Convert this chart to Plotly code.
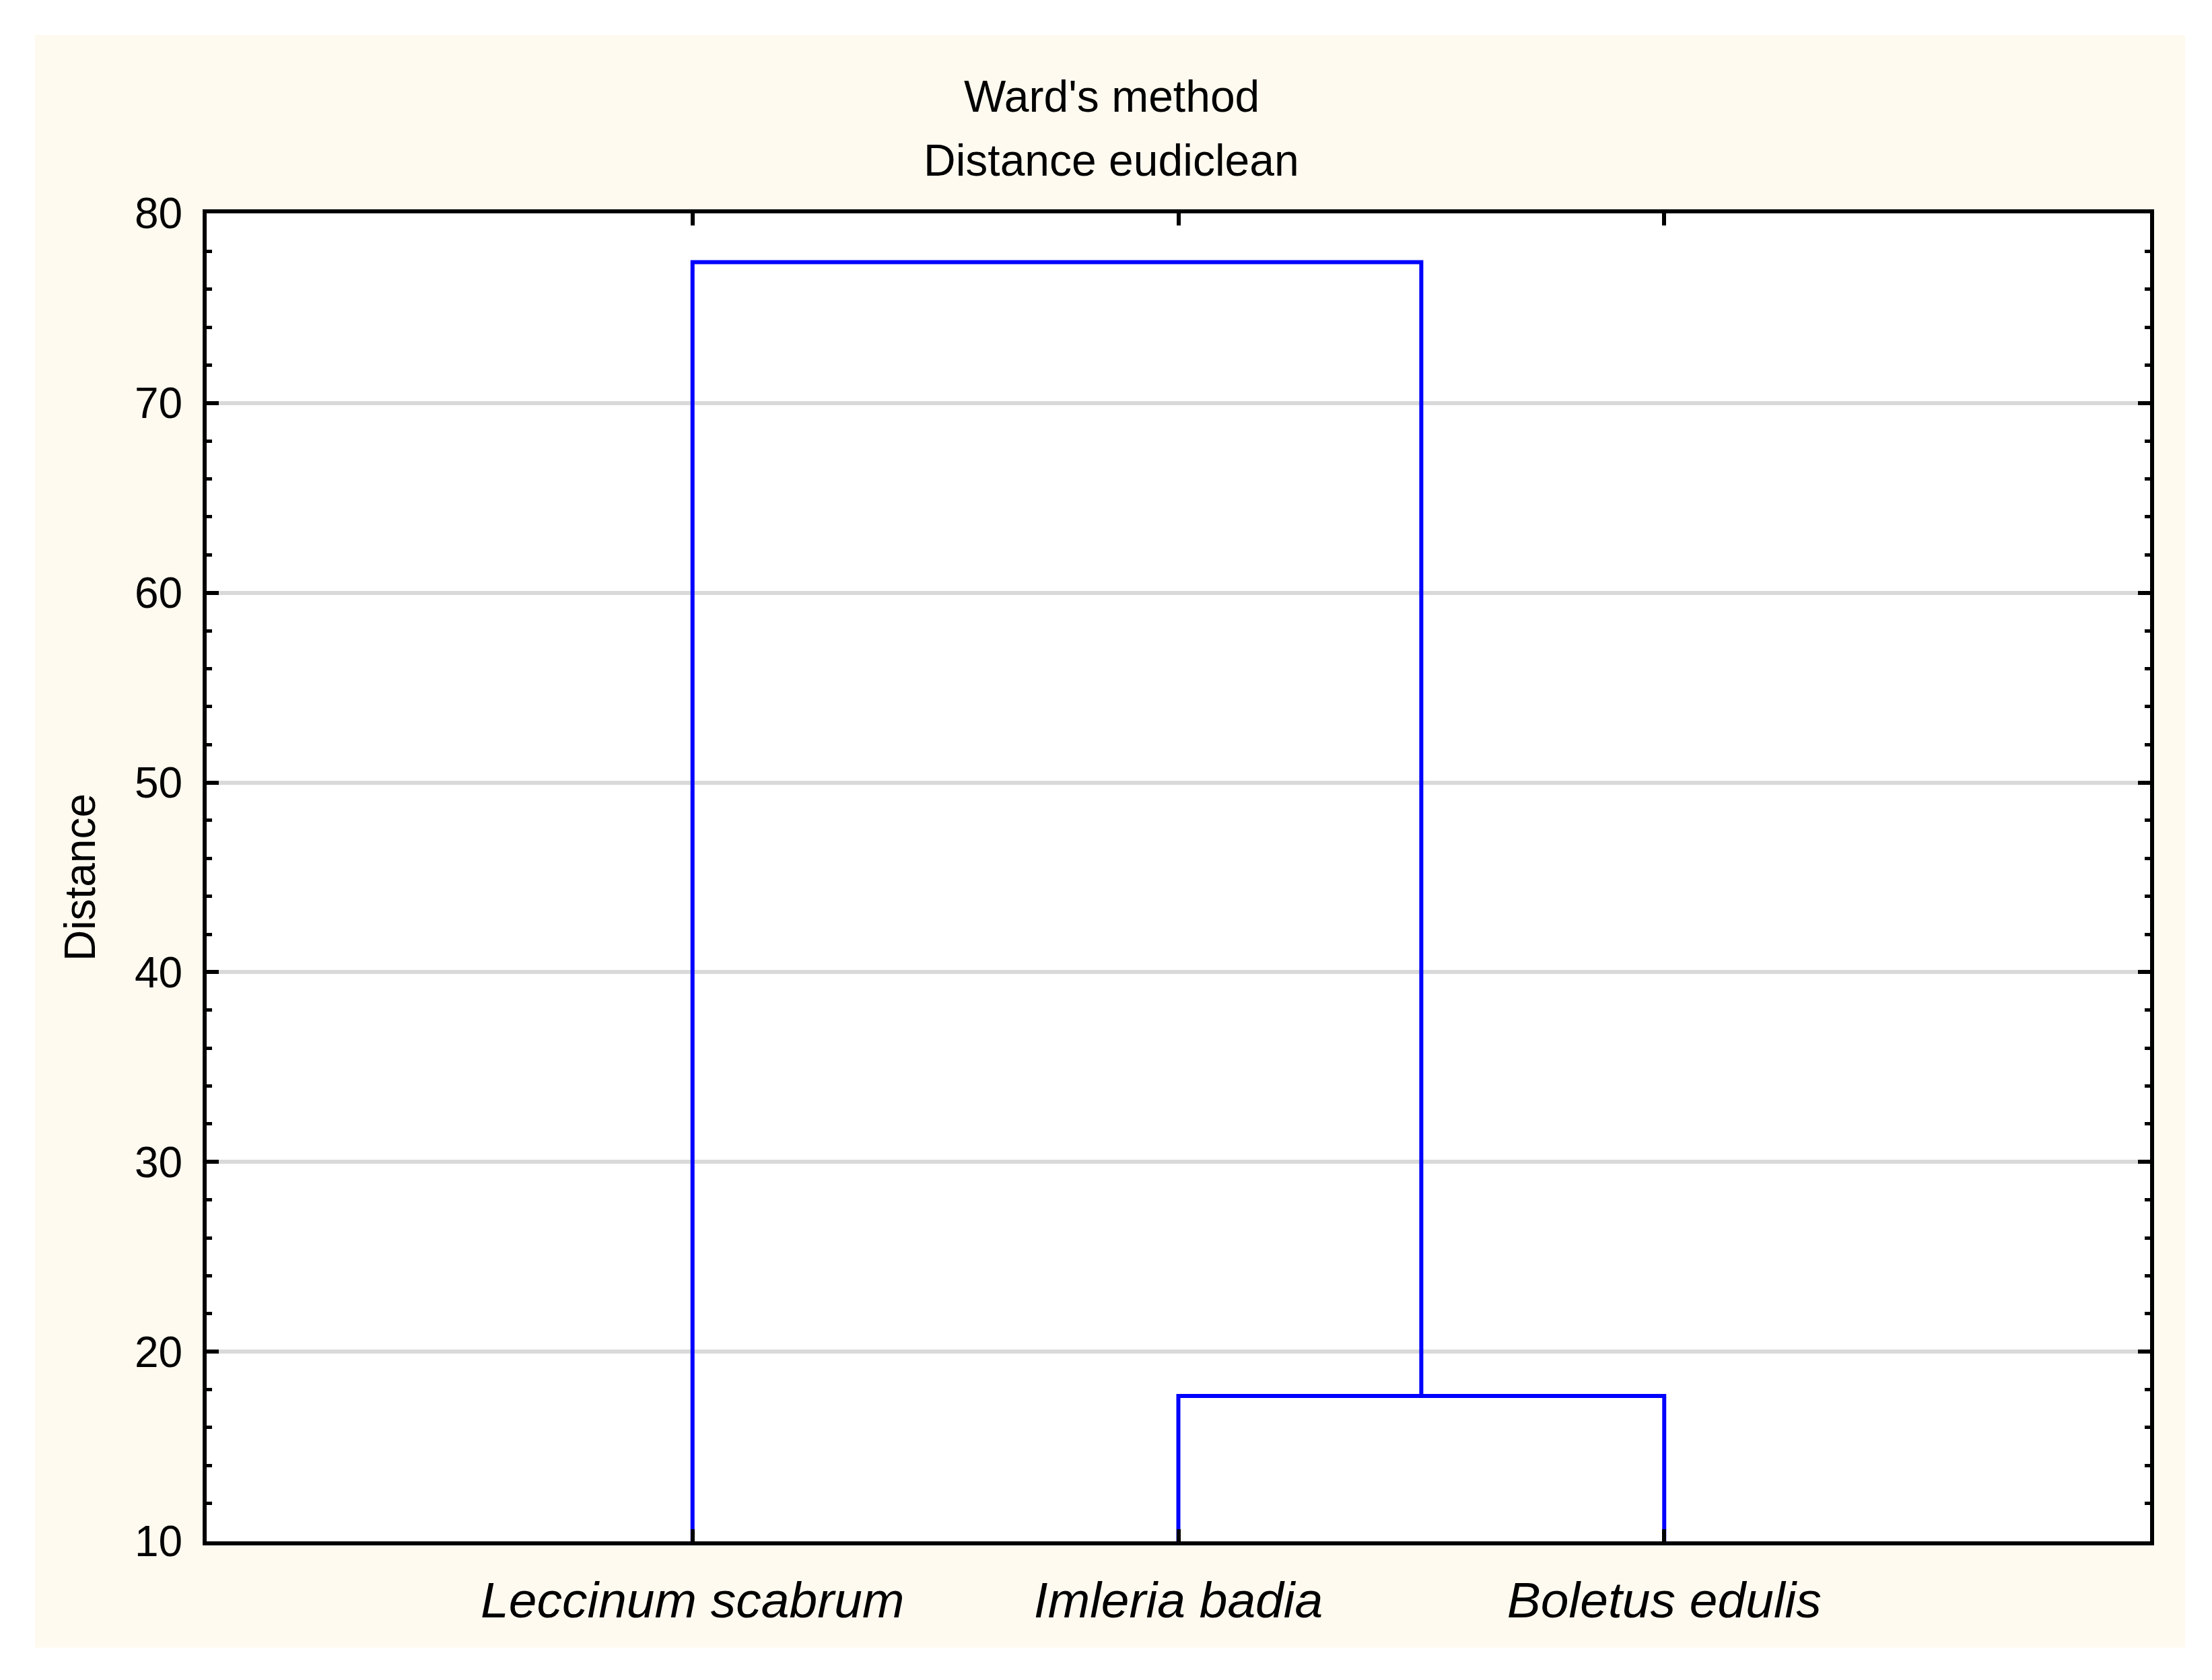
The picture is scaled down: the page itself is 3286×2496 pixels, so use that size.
import plotly.graph_objects as go

# ---------------- data ----------------
leaves = ["Leccinum scabrum", "Imleria badia", "Boletus edulis"]
leaf_positions = [1, 2, 3]
# merges: node ids (0..n-1 = leaves, n+k = cluster created by merge k)
merge_left = [1, 0]
merge_right = [2, 3]
merge_heights = [17.66, 77.43]
y_ticks = [10, 20, 30, 40, 50, 60, 70, 80]
title_lines = ["Ward's method", "Distance eudiclean"]
y_title = "Distance"
base_level = 10

# ---------------- build dendrogram links ----------------
node_x = list(leaf_positions)
node_y = [base_level] * len(leaves)
xs, ys = [], []
for l, r, h in zip(merge_left, merge_right, merge_heights):
    xl, yl = node_x[l], node_y[l]
    xr, yr = node_x[r], node_y[r]
    xs += [xl, xl, xr, xr, None]
    ys += [yl, h, h, yr, None]
    node_x.append((xl + xr) / 2)
    node_y.append(h)

FONT = "Liberation Sans, Arial, sans-serif"
OFF = 8  # page body margin
W, H = 3286 - OFF, 2496 - OFF
L, R, T, B = 307 - OFF, 92, 317 - OFF, 206
pw, ph = W - L - R, H - T - B

def px_to_paper_x(px):  # px in page coordinates
    return (px - OFF - L) / pw

def px_to_paper_y(py):
    return (H - B - (py - OFF)) / ph

fig = go.Figure()
fig.add_trace(go.Scatter(x=xs, y=ys, mode="lines",
                         line=dict(color="#0000ff", width=6),
                         hoverinfo="skip", showlegend=False))

cream = "#fffaf0"
shapes = [
    dict(type="rect", xref="paper", yref="paper", layer="below",
         x0=px_to_paper_x(52), x1=px_to_paper_x(3246),
         y0=px_to_paper_y(2448), y1=px_to_paper_y(52),
         fillcolor=cream, line=dict(width=0)),
    dict(type="rect", xref="paper", yref="paper", layer="below",
         x0=0, x1=1, y0=0, y1=1, fillcolor="white", line=dict(width=0)),
]

annotations = [
    dict(text=title_lines[0], xref="paper", yref="paper",
         x=px_to_paper_x(1651), y=px_to_paper_y(143), xanchor="center",
         yanchor="middle", showarrow=False,
         font=dict(family=FONT, size=66, color="black")),
    dict(text=title_lines[1], xref="paper", yref="paper",
         x=px_to_paper_x(1651), y=px_to_paper_y(238), xanchor="center",
         yanchor="middle", showarrow=False,
         font=dict(family=FONT, size=66, color="black")),
]

fig.update_layout(
    width=W, height=H,
    margin=dict(l=L, r=R, t=T, b=B, pad=0),
    paper_bgcolor="white", plot_bgcolor="white",
    shapes=shapes, annotations=annotations,
    font=dict(family=FONT, color="black"),
    showlegend=False,
)

fig.update_xaxes(
    range=[0, len(leaves) + 1],
    tickmode="array", tickvals=leaf_positions,
    ticktext=[f"<i>{t}</i>" for t in leaves],
    tickfont=dict(family=FONT, size=75, color="black"),
    ticklabelstandoff=17,
    ticks="inside", ticklen=18, tickwidth=6, tickcolor="black",
    showline=True, linewidth=6, linecolor="black", mirror="ticks",
    showgrid=False, zeroline=False,
)

fig.update_yaxes(
    range=[y_ticks[0], y_ticks[-1]],
    tickmode="array", tickvals=y_ticks,
    tickfont=dict(family=FONT, size=64, color="black"),
    ticklabelstandoff=17,
    ticks="inside", ticklen=18, tickwidth=6, tickcolor="black",
    minor=dict(dtick=2, tick0=0, ticks="inside", ticklen=8, tickwidth=5,
               tickcolor="black", showgrid=False),
    showline=True, linewidth=6, linecolor="black", mirror="ticks",
    showgrid=True, gridcolor="#d9d9d9", gridwidth=6, zeroline=False,
    title=dict(text=y_title, font=dict(family=FONT, size=64, color="black"),
               standoff=40),
)

fig.write_html("out.html")
